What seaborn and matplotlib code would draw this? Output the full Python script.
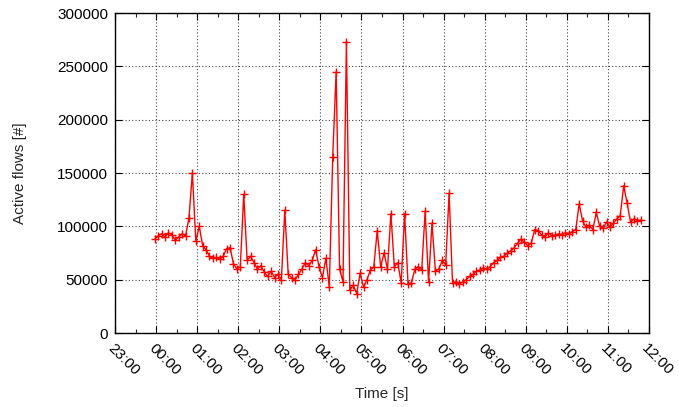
import matplotlib
matplotlib.use("Agg")
import matplotlib.pyplot as plt
import matplotlib.dates as mdates
import pandas as pd
import seaborn as sns

# Active flow counts sampled every 5 minutes, starting at 23:58
start_time = "2010-01-01 23:58"
sample_step = "5min"
flows = [
    88000, 91000, 93000, 90000, 94000, 92000, 87000, 90000, 93000, 91000,
    108000, 150000, 86000, 100000, 82000, 78000, 72000, 70000, 71000, 69000,
    72000, 79000, 80000, 65000, 60000, 62000, 130000, 68000, 72000, 66000,
    60000, 63000, 57000, 53000, 58000, 52000, 55000, 50000, 115000, 55000,
    52000, 50000, 55000, 60000, 66000, 63000, 68000, 78000, 62000, 52000,
    70000, 43000, 165000, 245000, 60000, 48000, 273000, 40000, 45000, 37000,
    56000, 43000, 50000, 59000, 62000, 96000, 62000, 75000, 60000, 112000,
    62000, 66000, 47000, 112000, 46000, 47000, 60000, 62000, 59000, 114000,
    48000, 103000, 58000, 60000, 68000, 64000, 131000, 47000, 48000, 46000,
    48000, 50000, 53000, 55000, 58000, 59000, 61000, 60000, 62000, 66000,
    68000, 71000, 72000, 75000, 77000, 80000, 84000, 88000, 85000, 82000,
    84000, 97000, 96000, 92000, 90000, 94000, 91000, 92000, 93000, 92000,
    94000, 93000, 95000, 97000, 121000, 105000, 99000, 101000, 97000, 113000,
    100000, 98000, 104000, 99000, 103000, 107000, 110000, 138000, 122000, 104000,
    107000, 105000, 106000,
]
y_ticks = [0, 50000, 100000, 150000, 200000, 250000, 300000]
x_label = "Time [s]"
y_label = "Active flows [#]"

df = pd.DataFrame({
    "time": pd.date_range(start_time, periods=len(flows), freq=sample_step),
    "flows": flows,
})

sns.set_style("ticks")
plt.rcParams["font.family"] = ["Liberation Sans", "DejaVu Sans"]

fig = plt.figure(figsize=(6.79, 4.07), dpi=100)
ax = fig.add_axes([0.1694, 0.1818, 0.7864, 0.7862])

sns.lineplot(
    data=df, x="time", y="flows", ax=ax,
    color="#ff0000", linewidth=1.0,
    marker="+", markersize=6, markeredgewidth=1.0, markeredgecolor="#ff0000",
)

ax.set_xlim(pd.Timestamp("2010-01-01 23:00"), pd.Timestamp("2010-01-02 12:00"))
ax.set_ylim(0, 300000)
ax.set_yticks(y_ticks)
ax.set_yticklabels([str(v) for v in y_ticks])

ax.xaxis.set_major_locator(mdates.HourLocator(interval=1))
ax.xaxis.set_minor_locator(mdates.MinuteLocator(byminute=[30]))
ax.xaxis.set_major_formatter(mdates.DateFormatter("%H:%M"))

for lbl in ax.get_xticklabels():
    lbl.set_rotation(-45)
    lbl.set_ha("left")
    lbl.set_va("top")
    lbl.set_rotation_mode("anchor")

ax.tick_params(axis="both", which="major", direction="in", length=5, width=0.8,
               top=True, right=True, labelsize=11, colors="black", pad=5)
ax.tick_params(axis="x", which="minor", direction="in", length=3, width=0.8,
               top=True, bottom=True)
ax.tick_params(axis="x", which="major", pad=6)

ax.grid(True, which="major", linestyle=(0, (1, 2)), color="#444444", linewidth=0.8)
ax.set_axisbelow(True)

for s in ax.spines.values():
    s.set_visible(True)
    s.set_color("black")
    s.set_linewidth(1.0)

ax.set_xlabel(x_label, fontsize=11, labelpad=6)
ax.set_ylabel(y_label, fontsize=11, labelpad=22)

fig.savefig("out.png", dpi=100)
